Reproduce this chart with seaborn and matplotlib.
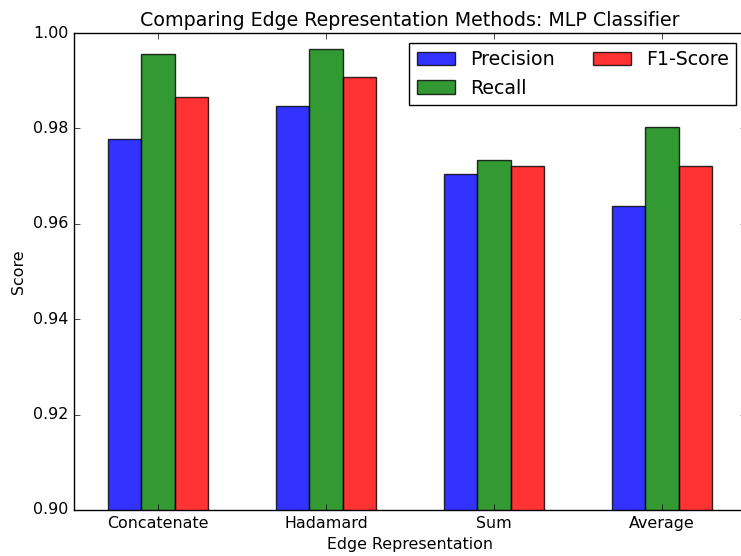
import matplotlib
matplotlib.use("Agg")
import matplotlib.pyplot as plt
import seaborn as sns
import pandas as pd

# Scores per edge representation method
methods = ["Concatenate", "Hadamard", "Sum", "Average"]
precision = [0.9777, 0.9847, 0.9705, 0.9637]
recall = [0.9956, 0.9966, 0.9734, 0.9803]
f1_score = [0.9866, 0.9908, 0.9721, 0.9721]
metrics = ["Precision", "Recall", "F1-Score"]
colors = ["b", "g", "r"]
ytick_labels = ["0.90", "0.92", "0.94", "0.96", "0.98", "1.00"]

df = pd.DataFrame({
    "Edge Representation": methods * 3,
    "Score": precision + recall + f1_score,
    "Metric": [m for m in metrics for _ in methods],
})

plt.style.use("classic")
plt.rcParams["font.family"] = ["DejaVu Sans"]

fig = plt.figure(figsize=(7.41, 5.56), dpi=100, facecolor="white")
ax = fig.add_axes([74 / 741, 1 - 510 / 556, 672 / 741, 477 / 556])

sns.barplot(
    data=df, x="Edge Representation", y="Score", hue="Metric",
    hue_order=metrics, order=methods, palette=colors, saturation=1,
    width=0.6, errorbar=None, alpha=0.8, edgecolor="black", linewidth=1,
    ax=ax,
)

ax.set_xlim(-0.5, 3.5)
ax.set_ylim(0.90, 1.00)
ax.set_yticks([float(t) for t in ytick_labels])
ax.set_yticklabels(ytick_labels)
ax.tick_params(direction="in", top=True, right=True, labelsize=11.4)
ax.set_title("Comparing Edge Representation Methods: MLP Classifier", fontsize=13.7)
ax.set_xlabel("Edge Representation", fontsize=11.4)
ax.set_ylabel("Score", fontsize=11.4)

handles, labels = ax.get_legend_handles_labels()
if ax.get_legend() is not None:
    ax.get_legend().remove()
ax.legend(handles, labels, loc="upper right", ncol=2, fontsize=13.7,
          fancybox=False, frameon=True)

fig.savefig("out.png", dpi=100, facecolor="white")
